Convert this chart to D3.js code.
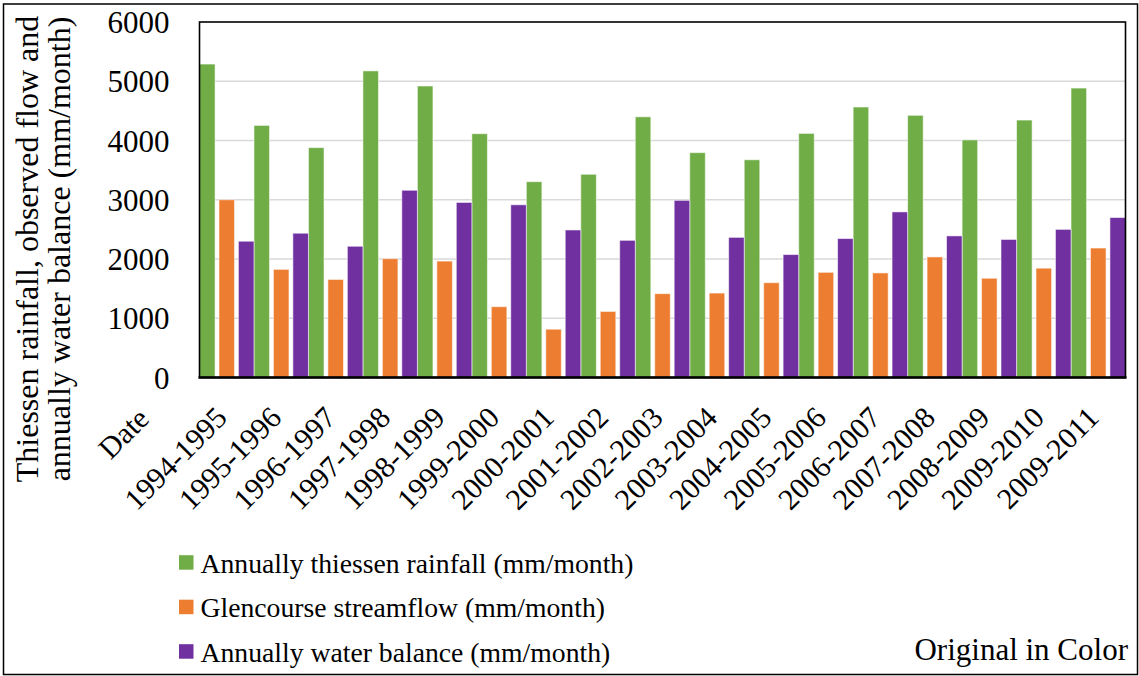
<!DOCTYPE html>
<html>
<head>
<meta charset="utf-8">
<script src="https://cdn.jsdelivr.net/npm/d3@7"></script>
<style>
  html, body { margin: 0; padding: 0; background: #fff; }
  svg { display: block; }
  svg text { font-family: "Liberation Serif", "Times New Roman", serif; fill: #000; }
</style>
</head>
<body>
<svg id="chart" width="1139" height="676"></svg>
<script>
// Hydrological years on the category axis
const periods = ["1994-1995", "1995-1996", "1996-1997", "1997-1998", "1998-1999", "1999-2000",
  "2000-2001", "2001-2002", "2002-2003", "2003-2004", "2004-2005", "2005-2006",
  "2006-2007", "2007-2008", "2008-2009", "2009-2010", "2009-2011"];

// Annual values (mm/month)
const rainfall     = [5290, 4255, 3880, 5175, 4920, 4115, 3305, 3430, 4400, 3795, 3675, 4120, 4565, 4425, 4010, 4345, 4885];
const streamflow   = [3000, 1825, 1655, 2005, 1965, 1195, 815, 1115, 1415, 1425, 1600, 1775, 1765, 2035, 1675, 1845, 2185];
const waterBalance = [2300, 2435, 2215, 3160, 2955, 2915, 2490, 2315, 2990, 2365, 2075, 2345, 2795, 2390, 2330, 2500, 2700];

const seriesNames  = ["Annually thiessen rainfall (mm/month)", "Glencourse streamflow (mm/month)", "Annually water balance (mm/month)"];
const seriesColors = ["#70AD47", "#ED7D31", "#7030A0"];
const yTicks = [0, 1000, 2000, 3000, 4000, 5000, 6000];
const axisHeader = "Date";
const yTitleLines = ["Thiessen rainfall, observed flow and", "annually water balance (mm/month)"];
const noteText = "Original in Color";

const seriesValues = [rainfall, streamflow, waterBalance];
const SERIF = '"Liberation Serif", "Times New Roman", serif';

const svg = d3.select("#chart");
const plot = { left: 199.5, right: 1125.5, top: 22, bottom: 377.5 };

// outer frame
svg.append("rect")
  .attr("x", 3.5).attr("y", 4).attr("width", 1134).attr("height", 670.5)
  .attr("fill", "#fff").attr("stroke", "#000").attr("stroke-width", 1.5);

const x = d3.scaleBand().domain(periods).range([plot.left, plot.right]).paddingInner(0).paddingOuter(0);
const inner = d3.scaleBand().domain(d3.range(seriesNames.length)).range([0, x.bandwidth()])
  .paddingInner(0.2).paddingOuter(0);
const y = d3.scaleLinear().domain([0, 6000]).range([plot.bottom, plot.top]);

// horizontal gridlines
svg.append("g").selectAll("line")
  .data(yTicks.filter(t => t > 0 && t < 6000))
  .join("line")
  .attr("x1", plot.left).attr("x2", plot.right)
  .attr("y1", d => y(d)).attr("y2", d => y(d))
  .attr("stroke", "#d9d9d9").attr("stroke-width", 1.5);

// bars
const barLayer = svg.append("g");
seriesValues.forEach((vals, s) => {
  barLayer.append("g").selectAll("rect")
    .data(vals.map((v, i) => ({ period: periods[i], value: v })))
    .join("rect")
    .attr("x", d => x(d.period) + inner(s))
    .attr("width", inner.bandwidth())
    .attr("y", d => y(d.value))
    .attr("height", d => y(0) - y(d.value))
    .attr("fill", seriesColors[s])
    .attr("stroke", "#fff").attr("stroke-opacity", 0.55).attr("stroke-width", 1);
});

// plot frame
svg.append("rect")
  .attr("x", plot.left).attr("y", plot.top)
  .attr("width", plot.right - plot.left).attr("height", plot.bottom - plot.top)
  .attr("fill", "none").attr("stroke", "#000").attr("stroke-width", 1.6);
svg.append("line")
  .attr("x1", plot.left - 1).attr("x2", plot.right + 1)
  .attr("y1", plot.bottom).attr("y2", plot.bottom)
  .attr("stroke", "#000").attr("stroke-width", 2.4);

// y axis labels
const yAxis = svg.append("g")
  .attr("transform", `translate(${plot.left},0)`)
  .call(d3.axisLeft(y).tickValues(yTicks).tickSize(0).tickPadding(30).tickFormat(d3.format("d")));
yAxis.select(".domain").remove();
yAxis.attr("font-family", null).attr("font-size", null);
yAxis.selectAll("text")
  .style("font-family", SERIF).style("font-size", "31px")
  .attr("fill", "#000").attr("dy", "0.34em");

// x axis labels, rotated
const xAxis = svg.append("g")
  .attr("transform", `translate(0,${plot.bottom})`)
  .call(d3.axisBottom(x).tickSize(0));
xAxis.select(".domain").remove();
xAxis.attr("font-family", null).attr("font-size", null);
xAxis.selectAll(".tick text")
  .style("font-family", SERIF).style("font-size", "30px")
  .attr("fill", "#000")
  .attr("x", 0).attr("y", 0).attr("dy", 0)
  .attr("text-anchor", "end")
  .attr("transform", "translate(2,42) rotate(-45)");
xAxis.select(".tick")
  .append("text")
  .style("font-family", SERIF).style("font-size", "30px")
  .attr("fill", "#000")
  .attr("text-anchor", "end")
  .attr("transform", "translate(-76,43) rotate(-45)")
  .text(axisHeader);

// y axis title
yTitleLines.forEach((line, i) => {
  svg.append("text")
    .attr("transform", `translate(${38 + i * 31.5},249) rotate(-90)`)
    .attr("text-anchor", "middle")
    .style("font-size", "32px")
    .text(line);
});

// legend
const legend = svg.append("g");
const legendBaselines = [572.7, 617.2, 661.7];
seriesNames.forEach((name, i) => {
  const g = legend.append("g").attr("transform", `translate(179,${legendBaselines[i]})`);
  g.append("rect").attr("x", 0).attr("y", -17.5).attr("width", 14.5).attr("height", 14.5)
    .attr("fill", seriesColors[i]);
  g.append("text").attr("x", 21.5).attr("y", 0)
    .style("font-size", "27.7px").text(name);
});

svg.append("text")
  .attr("x", 1128).attr("y", 660).attr("text-anchor", "end")
  .style("font-size", "31px").text(noteText);
</script>
</body>
</html>
